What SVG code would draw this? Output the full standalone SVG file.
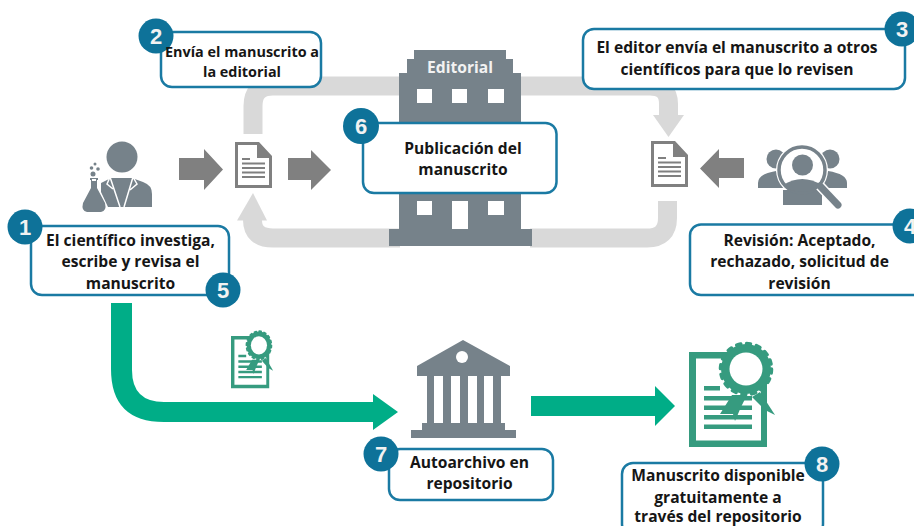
<svg xmlns="http://www.w3.org/2000/svg" xmlns:xlink="http://www.w3.org/1999/xlink" width="914" height="526" viewBox="0 0 914 526">
<style>
.box{fill:#fff;stroke:#1a7aa3;stroke-width:2.5}
.num{fill:#0e7299}
.n{font-family:"Liberation Sans",Arial,sans-serif;font-weight:700;font-size:22px;fill:#f2f2f2;text-anchor:middle}
.t{font-family:"Open Sans","Noto Sans",sans-serif;font-weight:700;font-size:15.600px;fill:#161616;text-anchor:middle}
.ic{fill:#76828a}
.ar{fill:#808080}
.lg{fill:none;stroke:#d9d9d9;stroke-width:19}
.lgf{fill:#d9d9d9}
.gr{fill:#00ad87}
.w{fill:#fff}
.ct{fill:#369b7f}
</style>
<defs>
<g id="doc">
<path d="M0 0H24L37 14V46H0Z M3 3V43H34V16H22V3Z" fill="#808080" fill-rule="evenodd"/>
<path d="M25 3L34 13H25Z" fill="#808080"/>
<path d="M7 16H15V18H7Z M7 20.500H30V22.500H7Z M7 25H30V27H7Z M7 29.500H30V31.500H7Z M7 34H30V36H7Z" fill="#808080"/>
</g>
<g id="cert">
<path d="M0 0H78V95H0Z M7 6.500V88.500H72V6.500Z" class="ct" fill-rule="evenodd"/>
<path d="M15 34H31V38.500H15Z M15 44H63V48.500H15Z M15 53.500H63V58H15Z M15 63H63V67.500H15Z M15 72.500H63V77H15Z" class="ct"/>
<path d="M43 43L31 62 44 62 46 69 52 55 58 43Z" class="ct"/>
<path d="M63 45L71 40 86 63 76 58Z" class="ct"/>
<circle cx="57" cy="17" r="25" class="ct"/>
<circle cx="57" cy="17" r="25.500" fill="none" stroke="#369b7f" stroke-width="3.500" stroke-linecap="round" stroke-dasharray="4 6"/>
<circle cx="57" cy="17" r="16.500" class="w"/>
</g>
</defs>

<g id="connectors">
<path class="lg" d="M253 134V106Q253 86 273 86H400"/>
<path class="lg" d="M520 86H650Q668.500 86 668.500 104V117"/>
<path class="lgf" d="M653 115H684L668.500 137Z"/>
<path class="lg" d="M667.500 201V218Q667.500 238 647 238H530"/>
<path class="lg" d="M400 238H273Q252.500 238 252.500 220V216"/>
<path class="lgf" d="M237 220.500H267L253 193Z"/>
<path class="ar" d="M179 158H204V149L223 169.500 204 190V180H179Z"/>
<path class="ar" d="M288 158H311V150L331 170 311 190V180H288Z"/>
<path class="ar" d="M744 158H719V149L700 168.500 719 188V178H744Z"/>
<path class="gr" d="M111 303H132V370Q132 402 164 402H373V394L398 412 373 430V422H164Q111 422 111 369Z"/>
<path class="gr" d="M531 396H655V386L675 406 655 426V416H531Z"/>
</g>

<g id="scientist">
<circle cx="122" cy="157" r="15.500" class="ic"/>
<path class="ic" d="M101 183L111 178H132L143 182Q152 185 152 194V207H108L101 192Z"/>
<path d="M110 177L120 207M133 177L124 207M110 177L107 184 113 189M133 177L137 184 130 190" fill="none" stroke="#fff" stroke-width="1.500"/>
<path class="ic" d="M90 178H98V180H97V188L105 203Q107 211 101 212H87Q81 211 83 203L91 188V180H90Z"/>
<path d="M92 180H96" stroke="#fff" stroke-width="2"/>
<circle cx="93" cy="174" r="2.500" class="ic"/><circle cx="91.500" cy="168" r="1.800" class="ic"/><circle cx="98" cy="169" r="1.800" class="ic"/><circle cx="95" cy="164" r="1.500" class="ic"/>
</g>

<g id="doc-left"><use xlink:href="#doc" href="#doc" x="235" y="142"/></g>
<g id="doc-right"><use xlink:href="#doc" href="#doc" x="651" y="141"/></g>

<g id="editorial">
<path class="ic" d="M414 50H506V59H513V73H521V229H532V246H389V229H399V73H407V59H414Z"/>
<path class="w" d="M417 89H432V103H417Z M452 89H467V103H452Z M488 89H504V103H488Z M417 201H432V215H417Z M488 201H504V215H488Z M452 201H468V229H452Z"/>
<text x="460" y="73" font-family="Open Sans" font-weight="700" font-size="15.600" fill="#f2f2f2" text-anchor="middle">Editorial</text>
</g>

<g id="reviewers">
<circle cx="776" cy="159" r="9.500" class="ic"/>
<circle cx="830" cy="159" r="9.500" class="ic"/>
<path class="ic" d="M758 188V183Q758 174 776 171L785 188Z M820 188L828 171Q847 174 847 183V188Z"/>
<circle cx="802" cy="170" r="26" class="w"/>
<path class="ic" d="M783 205V190H822V205Z"/>
<circle cx="802" cy="170" r="23" fill="none" stroke="#76828a" stroke-width="3.500"/>
<circle cx="802.500" cy="165" r="10.500" class="ic"/>
<path class="ic" d="M783 185Q802 173 822 185 815 192 802 192 790 192 783 185Z"/>
<path d="M820 186L839 206" stroke="#fff" stroke-width="10"/>
<path d="M820 186L838 205" stroke="#76828a" stroke-width="7" stroke-linecap="round"/>
</g>

<g id="repo">
<path class="ic" d="M463 340L510 366V376H501V423H505V430H516V438H411V430H422V423H427V376H417V366Z"/>
<path class="w" d="M434 376H443V423H434Z M451 376H460V423H451Z M468 376H477V423H468Z M484 376H493V423H484Z"/>
<circle cx="462" cy="357" r="6" class="w"/>
</g>

<g id="cert-small"><use xlink:href="#cert" href="#cert" transform="translate(231 336) scale(0.49 0.55)"/></g>
<g id="cert-large"><use xlink:href="#cert" href="#cert" transform="translate(689 352)"/></g>

<g id="node-1">
<rect class="box" x="31" y="226" width="198" height="69" rx="11"/>
<circle class="num" cx="25" cy="227" r="17.500"/>
<text class="n" x="25" y="235">1</text>
<text class="t" x="130.500" y="246">El científico investiga,</text>
<text class="t" x="130.500" y="267">escribe y revisa el</text>
<text class="t" x="130.500" y="289">manuscrito</text>
</g>
<g id="node-5">
<circle class="num" cx="223" cy="290" r="17.500"/>
<text class="n" x="223" y="298">5</text>
</g>
<g id="node-2">
<rect class="box" x="161" y="32" width="160" height="55" rx="11"/>
<circle class="num" cx="156" cy="36" r="17.500"/>
<text class="n" x="156" y="44">2</text>
<text class="t" style="font-size:14.400px" x="242" y="57">Envía el manuscrito a</text>
<text class="t" style="font-size:14.400px" x="242" y="77">la editorial</text>
</g>
<g id="node-3">
<rect class="box" x="583" y="29" width="322" height="60" rx="11"/>
<circle class="num" cx="902" cy="29" r="17.500"/>
<text class="n" x="902" y="37">3</text>
<text class="t" x="737" y="53">El editor envía el manuscrito a otros</text>
<text class="t" x="737" y="75">científicos para que lo revisen</text>
</g>
<g id="node-4">
<rect class="box" x="690" y="224.500" width="236" height="70.500" rx="11"/>
<circle class="num" cx="910" cy="226" r="17.500"/>
<text class="n" x="910" y="234">4</text>
<text class="t" x="799.500" y="246">Revisión: Aceptado,</text>
<text class="t" x="799.500" y="267">rechazado, solicitud de</text>
<text class="t" x="799.500" y="289">revisión</text>
</g>
<g id="node-6">
<rect class="box" x="363" y="123" width="193.500" height="70" rx="11"/>
<circle class="num" cx="361" cy="126" r="18"/>
<text class="n" x="361" y="134">6</text>
<text class="t" x="463" y="154">Publicación del</text>
<text class="t" x="463" y="175">manuscrito</text>
</g>
<g id="node-7">
<rect class="box" x="389" y="449" width="164" height="51" rx="11"/>
<circle class="num" cx="381" cy="454" r="17.500"/>
<text class="n" x="381" y="462">7</text>
<text class="t" x="469.500" y="467.500">Autoarchivo en</text>
<text class="t" x="469.500" y="489">repositorio</text>
</g>
<g id="node-8">
<rect class="box" x="622" y="463" width="201" height="72" rx="11"/>
<circle class="num" cx="822" cy="464" r="17.500"/>
<text class="n" x="822" y="472">8</text>
<text class="t" x="718" y="481">Manuscrito disponible</text>
<text class="t" x="718" y="503">gratuitamente a</text>
<text class="t" x="718" y="522">través del repositorio</text>
</g>
</svg>
